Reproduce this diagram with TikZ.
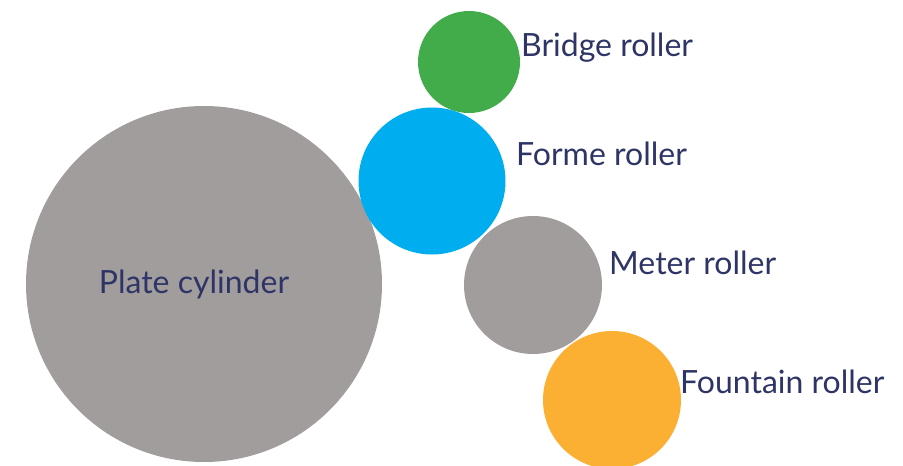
\documentclass[tikz,border=0pt]{standalone}
\usepackage{fontspec}
\setmainfont{Lato}
\definecolor{rollgray}{HTML}{A19D9C}
\definecolor{rollgreen}{HTML}{43AC4A}
\definecolor{rollblue}{HTML}{00AEEF}
\definecolor{rollorange}{HTML}{FBB034}
\definecolor{labelnavy}{HTML}{2E3566}
\tikzset{
  roller/.style={circle,inner sep=0pt,draw=none},
  rolltext/.style={anchor=base west,inner sep=0pt,text=labelnavy,font=\fontsize{32}{38}\selectfont}
}
\begin{document}
\begin{tikzpicture}[x=1pt,y=-1pt]
    \useasboundingbox (0,0) rectangle (903,466);
    \node[roller,fill=rollgray,minimum size=356pt] (plate) at (204,284) {};
    \node[roller,fill=rollgreen,minimum size=102pt] (bridge) at (469,62) {};
    \node[roller,fill=rollblue,minimum size=147pt] (forme) at (432,181) {};
    \node[roller,fill=rollgray,minimum size=138pt] (meter) at (533,285) {};
    \node[roller,fill=rollorange,minimum size=138pt] (fountain) at (612,400) {};

    \node[rolltext,anchor=base] (platelbl) at (194,293) {Plate cylinder};
    \node[rolltext] (bridgelbl) at (521,56) {Bridge roller};
    \node[rolltext] (formelbl) at (516,165) {Forme roller};
    \node[rolltext] (meterlbl) at (609,274) {Meter roller};
    \node[rolltext] (fountainlbl) at (680,393) {Fountain roller};
\end{tikzpicture}
\end{document}
